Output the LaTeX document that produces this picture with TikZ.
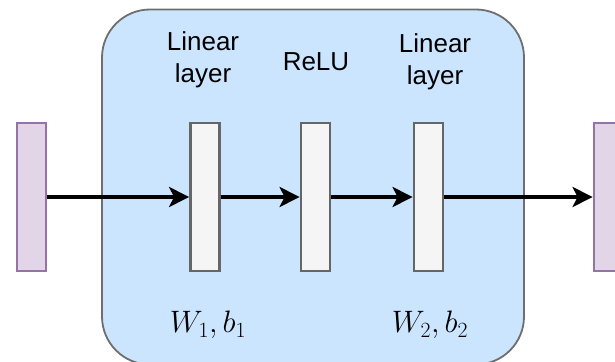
\RequirePackage{fix-cm}
\documentclass[tikz,border=0pt]{standalone}
\usepackage{fontspec}
\setsansfont{Liberation Sans}
\usetikzlibrary{arrows.meta}
\definecolor{boxfill}{HTML}{CCE5FF}
\definecolor{boxline}{HTML}{6E6E6E}
\definecolor{purfill}{HTML}{E1D5E7}
\definecolor{purline}{HTML}{9673A6}
\definecolor{barfill}{HTML}{F5F5F5}
\definecolor{barline}{HTML}{666666}
\tikzset{
  bar/.style={draw=barline, fill=barfill, line width=2.8pt, minimum width=29pt, minimum height=148pt, inner sep=0pt},
  vec/.style={draw=purline, fill=purfill, line width=2.8pt, minimum width=29pt, minimum height=148pt, inner sep=0pt},
  lbl/.style={font=\sffamily\fontsize{26}{32}\selectfont, align=center},
  mth/.style={font=\fontsize{31}{36}\selectfont},
  flow/.style={line width=3.6pt, -{Stealth[length=20pt,width=20pt,inset=5pt]}}
}
\begin{document}
\begin{tikzpicture}[x=1pt,y=-1pt]
\useasboundingbox (0,0) rectangle (615,361);
\node[draw=boxline, fill=boxfill, line width=1.8pt, rounded corners=48pt, minimum width=422pt, minimum height=355pt, inner sep=0pt] (box) at (313,187) {};
\node[vec] (in) at (31.5,197) {};
\node[vec] (out) at (608.5,197) {};
\node[bar] (l1) at (205,197) {};
\node[bar] (r) at (315.5,197) {};
\node[bar] (l2) at (428.5,197) {};
\node[lbl] (t1) at (203,60) {Linear\\layer};
\node[lbl] (t2) at (316,62) {ReLU};
\node[lbl] (t3) at (435,62) {Linear\\layer};
\node[mth] (w1) at (208,325) {$W_1,b_1$};
\node[mth] (w2) at (430,325) {$W_2,b_2$};
\draw[flow] (in.east) -- (l1.west);
\draw[flow] (l1.east) -- (r.west);
\draw[flow] (r.east) -- (l2.west);
\draw[flow] (l2.east) -- (out.west);
\end{tikzpicture}
\end{document}
